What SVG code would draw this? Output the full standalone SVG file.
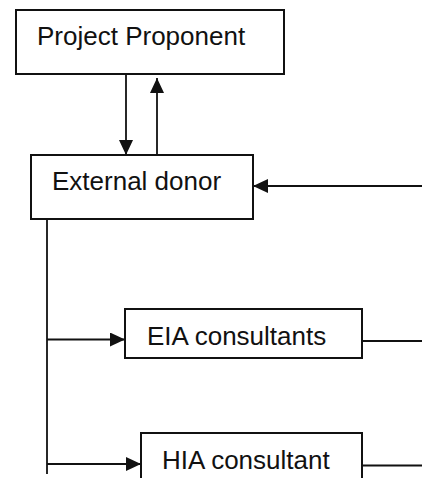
<svg xmlns="http://www.w3.org/2000/svg" width="422" height="478" viewBox="0 0 422 478">
<style>
.box{fill:#fff;stroke:#111;stroke-width:2}
.lbl{font-family:"Liberation Sans",Arial,sans-serif;font-size:26px;fill:#111}
.ln{fill:none;stroke:#111;stroke-width:1.8}
.arr{marker-end:url(#ah)}
</style>
<defs>
<marker id="ah" markerUnits="userSpaceOnUse" markerWidth="16" markerHeight="14" refX="15" refY="7" orient="auto">
<path d="M0,0 L15,7 L0,14 Z" fill="#111"/>
</marker>
</defs>
<rect width="422" height="478" fill="#fff"/>
<g id="connectors">
<line class="ln arr" x1="126" y1="74" x2="126" y2="155"/>
<line class="ln arr" x1="157" y1="155" x2="157" y2="78"/>
<line class="ln arr" x1="422" y1="186" x2="253" y2="186"/>
<line class="ln" x1="47" y1="219" x2="47" y2="474"/>
<line class="ln arr" x1="47" y1="339.5" x2="125" y2="339.5"/>
<line class="ln arr" x1="47" y1="464" x2="141" y2="464"/>
<line class="ln" x1="362" y1="341" x2="422" y2="341"/>
<line class="ln" x1="362" y1="465.5" x2="422" y2="465.5"/>
</g>
<g id="project-proponent">
<rect class="box" x="16" y="10" width="268" height="64"/>
<text class="lbl" x="37" y="45">Project Proponent</text>
</g>
<g id="external-donor">
<rect class="box" x="31" y="155" width="222" height="64"/>
<text class="lbl" x="52" y="190">External donor</text>
</g>
<g id="eia-consultants">
<rect class="box" x="125" y="309" width="237" height="49"/>
<text class="lbl" x="147" y="345">EIA consultants</text>
</g>
<g id="hia-consultant">
<rect class="box" x="141" y="433" width="221" height="60"/>
<text class="lbl" x="162" y="469">HIA consultant</text>
</g>
</svg>
